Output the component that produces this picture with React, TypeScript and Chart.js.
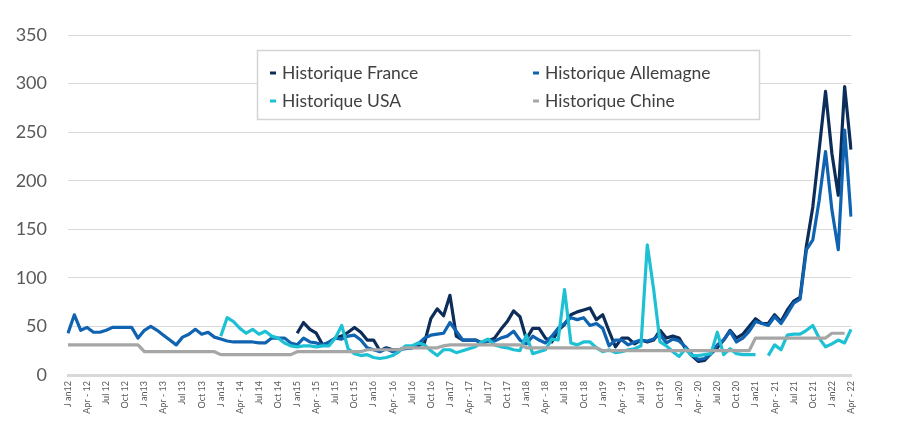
import React, { useEffect, useRef } from "react";
import { Chart, registerables } from "chart.js";

Chart.register(...registerables);

// Tick labels (one every 3 months, Jan 2012 -> Apr 2022)
const tickLabels = [
  "J an12", "Apr - 12", "Jul 12", "Oct 12",
  "J an13", "Apr - 13", "Jul 13", "Oct 13",
  "J an14", "Apr - 14", "Jul 14", "Oct 14",
  "J an15", "Apr - 15", "Jul 15", "Oct 15",
  "J an16", "Apr - 16", "Jul 16", "Oct 16",
  "J an17", "Apr - 17", "Jul 17", "Oct 17",
  "J an18", "Apr - 18", "Jul 18", "Oct 18",
  "J an19", "Apr - 19", "Jul 19", "Oct 19",
  "J an20", "Apr - 20", "Jul 20", "Oct 20",
  "J an21", "Apr - 21", "Jul 21", "Oct 21",
  "J an22", "Apr - 22",
];

const seriesNames = ["Historique France", "Historique Allemagne", "Historique USA", "Historique Chine"];

const franceValues: (number | null)[] = [
  null, null, null, null, null, null, null, null, null, null, null, null,
  null, null, null, null, null, null, null, null, null, null, null, null,
  null, null, null, null, null, null, null, null, null, null, null, null,
  43, 54, 47, 43, 31, 33, 38, 40, 44, 49, 44, 36,
  36, 25, 28, 26, 26, 28, 28, 30, 33, 58, 68, 61,
  82, 40, 36, 36, 36, 33, 35, 38, 47, 55, 66, 60,
  37, 48, 48, 38, 34, 46, 52, 62, 65, 67, 69, 57,
  62, 45, 29, 38, 38, 32, 36, 34, 36, 46, 38, 40,
  38, 27, 20, 14, 15, 22, 28, 36, 46, 38, 42, 50,
  58, 53, 53, 62, 55, 67, 76, 80, 133, 173, 232, 292,
  228, 185, 297, 232,
];

const allemagneValues: (number | null)[] = [
  43, 62, 46, 49, 44, 44, 46, 49, 49, 49, 49, 38,
  46, 50, 46, 41, 36, 31, 39, 42, 47, 42, 44, 39,
  37, 35, 34, 34, 34, 34, 33, 33, 38, 38, 38, 33,
  31, 38, 34, 33, 31, 34, 38, 37, 40, 41, 36, 28,
  26, 24, 27, 24, 26, 27, 28, 32, 38, 41, 42, 43,
  54, 45, 36, 36, 36, 33, 35, 35, 38, 40, 45, 36,
  32, 40, 36, 33, 40, 48, 53, 59, 57, 59, 51, 53,
  48, 30, 36, 36, 31, 34, 36, 35, 37, 42, 33, 37,
  35, 29, 21, 16, 17, 22, 31, 36, 45, 34, 38, 45,
  55, 53, 51, 60, 53, 63, 74, 78, 129, 139, 180, 230,
  170, 129, 252, 163,
];

const usaValues: (number | null)[] = [
  null, null, null, null, null, null, null, null, null, null, null, null,
  null, null, null, null, null, null, null, null, null, null, null, null,
  40, 59, 55, 48, 43, 47, 42, 45, 40, 38, 33, 30,
  29, 30, 30, 29, 30, 30, 38, 51, 27, 22, 20, 21,
  18, 17, 18, 20, 24, 30, 30, 33, 31, 25, 20, 26,
  26, 23, 25, 27, 29, 34, 37, 31, 29, 28, 26, 25,
  41, 22, 24, 26, 37, 36, 88, 33, 31, 34, 34, 28,
  24, 26, 23, 24, 26, 27, 30, 134, 88, 34, 30, 24,
  19, 27, 20, 20, 21, 22, 44, 21, 27, 22, 21, 21,
  21, null, 20, 31, 26, 41, 42, 42, 46, 51, 38, 29,
  32, 36, 33, 47,
];

const chineValues: (number | null)[] = [
  31, 31, 31, 31, 31, 31, 31, 31, 31, 31, 31, 31,
  24, 24, 24, 24, 24, 24, 24, 24, 24, 24, 24, 24,
  21, 21, 21, 21, 21, 21, 21, 21, 21, 21, 21, 21,
  24, 24, 24, 24, 24, 24, 24, 24, 24, 24, 24, 26,
  26, 26, 26, 26, 26, 28, 28, 28, 28, 28, 28, 30,
  31, 31, 31, 31, 31, 31, 31, 31, 31, 31, 31, 31,
  28, 28, 28, 28, 28, 28, 28, 28, 28, 28, 28, 28,
  25, 25, 25, 25, 25, 25, 25, 25, 25, 25, 25, 25,
  25, 25, 25, 25, 25, 25, 25, 25, 25, 25, 25, 25,
  38, 38, 38, 38, 38, 38, 38, 38, 38, 38, 38, 38,
  43, 43, 43, null,
];

const seriesColors = ["#0c2d5a", "#0f63b0", "#1dc1d3", "#a6a6a6"];

const FONT = "Lato, 'Open Sans', sans-serif";

const boxLegend = {
  id: "boxLegend",
  afterDatasetsDraw(chart: any) {
    const ctx = chart.ctx as CanvasRenderingContext2D;
    const bx = 257, by = 50, bw = 502, bh = 69;
    ctx.save();
    ctx.fillStyle = "#ffffff";
    ctx.fillRect(bx, by, bw, bh);
    ctx.strokeStyle = "#d4d4d4";
    ctx.lineWidth = 1.5;
    ctx.strokeRect(bx + 0.5, by + 0.5, bw, bh);
    const cols = [270, 533];
    const rows = [73, 101];
    ctx.font = `17.5px ${FONT}`;
    ctx.textBaseline = "middle";
    ctx.textAlign = "left";
    [0, 1, 2, 3].forEach((k, n) => {
      const ds = chart.data.datasets[k];
      const x = cols[n % 2];
      const y = rows[Math.floor(n / 2)];
      ctx.fillStyle = ds.borderColor;
      ctx.fillRect(x, y - 1.5, 6, 3);
      ctx.fillStyle = "#404040";
      ctx.fillText(ds.label, x + 12, y);
    });
    ctx.restore();
  },
};

export default function App() {
  const ref = useRef<HTMLCanvasElement>(null);

  useEffect(() => {
    const categories: string[] = [];
    tickLabels.forEach((t, k) => {
      categories.push(t);
      if (k < tickLabels.length - 1) categories.push("", "");
    });
    const values = [franceValues, allemagneValues, usaValues, chineValues];
    const datasets = values.map((v, k) => ({
      label: seriesNames[k],
      data: v,
      borderColor: seriesColors[k],
      backgroundColor: seriesColors[k],
      borderWidth: 3.2,
      pointRadius: 0,
      tension: 0,
      spanGaps: false,
      borderJoinStyle: "round" as const,
      order: 3 - k,
    }));

    const chart = new Chart(ref.current!, {
      type: "line",
      data: { labels: categories, datasets },
      plugins: [boxLegend],
      options: {
        animation: false,
        responsive: false,
        maintainAspectRatio: false,
        layout: { padding: { left: 0, right: 49, top: 35, bottom: 0 } },
        plugins: { legend: { display: false }, tooltip: { enabled: false } },
        scales: {
          x: {
            type: "category",
            offset: false,
            grid: { display: false, drawTicks: false },
            border: { display: true, color: "#d9d9d9", width: 3 },
            afterFit: (scale: any) => { scale.height = 63; },
            ticks: {
              autoSkip: false,
              minRotation: 90,
              maxRotation: 90,
              padding: 6,
              color: "#595959",
              font: { family: FONT, size: 9 },
              callback: (_v: any, idx: number) => categories[idx],
            },
          },
          y: {
            min: 0,
            max: 350,
            afterFit: (scale: any) => { scale.width = 68; },
            grid: { color: "#d9d9d9", lineWidth: 1, drawTicks: false },
            border: { display: false },
            ticks: {
              stepSize: 50,
              padding: 21,
              color: "#595959",
              font: { family: FONT, size: 18 },
            },
          },
        },
      },
    });
    return () => chart.destroy();
  }, []);

  return (
    <div style={{ position: "fixed", left: 0, top: 0, width: 900, height: 438, background: "#fff" }}>
      <canvas ref={ref} width={900} height={438} style={{ width: 900, height: 438, display: "block" }} />
    </div>
  );
}
